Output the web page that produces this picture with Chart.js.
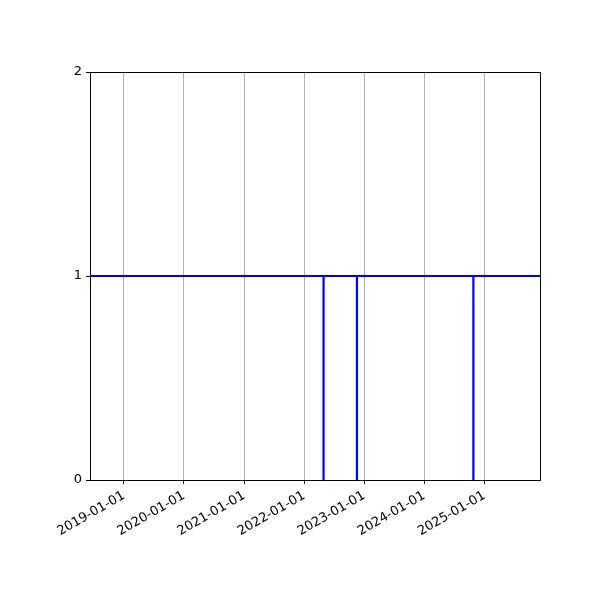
<!DOCTYPE html>
<html>
<head>
<meta charset="utf-8">
<script src="https://cdn.jsdelivr.net/npm/chart.js@4"></script>
<style>
    body { margin: 0; background: #fff; }
</style>
</head>
<body>
<canvas id="stepChart" width="600" height="600"></canvas>
<script>
// step series: value drops to 0 for a single instant on the drop dates
const pointDates = ["2018-06-09", "2022-04-29", "2022-04-29", "2022-04-29",
                    "2022-11-18", "2022-11-18", "2022-11-18",
                    "2024-10-26", "2024-10-26", "2024-10-26", "2025-12-05"]
const pointValues = [1, 1, 0, 1, 1, 0, 1, 1, 0, 1, 1]
const tickYears = [2019, 2020, 2021, 2022, 2023, 2024, 2025]
const yTicks = [0, 1, 2]

function toMs(d) {
    return Date.parse(d + "T00:00:00Z")
}

function fmtDate(ms) {
    const d = new Date(ms)
    const mm = String(d.getUTCMonth() + 1).padStart(2, "0")
    const dd = String(d.getUTCDate()).padStart(2, "0")
    return d.getUTCFullYear() + "-" + mm + "-" + dd
}

const framePlugin = {
    id: "frame",
    afterDraw(chart) {
        const a = chart.chartArea
        const ctx = chart.ctx
        ctx.save()
        ctx.strokeStyle = "#000"
        ctx.lineWidth = 1
        ctx.strokeRect(a.left + 0.5, a.top + 0.5, a.right - a.left, a.bottom - a.top)
        ctx.restore()
    }
}

const fontSpec = { family: "DejaVu Sans", size: 13 }

new Chart(document.getElementById("stepChart").getContext("2d"), {
    type: "line",
    data: {
        datasets: [{
            data: pointDates.map((d, i) => ({ x: toMs(d), y: pointValues[i] })),
            borderColor: "#0000ff",
            borderWidth: 2.2,
            pointRadius: 0,
            tension: 0,
            fill: false
        }]
    },
    options: {
        responsive: false,
        animation: false,
        devicePixelRatio: 1,
        layout: { padding: { left: 0, right: 60, top: 72, bottom: 0 } },
        plugins: {
            legend: { display: false },
            tooltip: { enabled: false }
        },
        scales: {
            x: {
                type: "linear",
                min: toMs(pointDates[0]),
                max: toMs(pointDates[pointDates.length - 1]),
                afterBuildTicks: scale => {
                    scale.ticks = tickYears.map(y => ({ value: Date.UTC(y, 0, 1) }))
                },
                afterFit: scale => { scale.height = 120 },
                ticks: {
                    color: "#000",
                    font: fontSpec,
                    minRotation: 30,
                    maxRotation: 30,
                    padding: 4,
                    callback: v => fmtDate(v)
                },
                grid: {
                    color: "#b0b0b0",
                    lineWidth: 1,
                    tickColor: "#000",
                    tickLength: 4
                },
                border: { display: false }
            },
            y: {
                min: 0,
                max: 2,
                afterBuildTicks: scale => {
                    scale.ticks = yTicks.map(v => ({ value: v }))
                },
                afterFit: scale => { scale.width = 90 },
                ticks: {
                    color: "#000",
                    font: fontSpec,
                    padding: 4
                },
                grid: {
                    drawOnChartArea: false,
                    tickColor: "#000",
                    tickLength: 4
                },
                border: { display: false }
            }
        }
    },
    plugins: [framePlugin]
})
</script>
</body>
</html>
